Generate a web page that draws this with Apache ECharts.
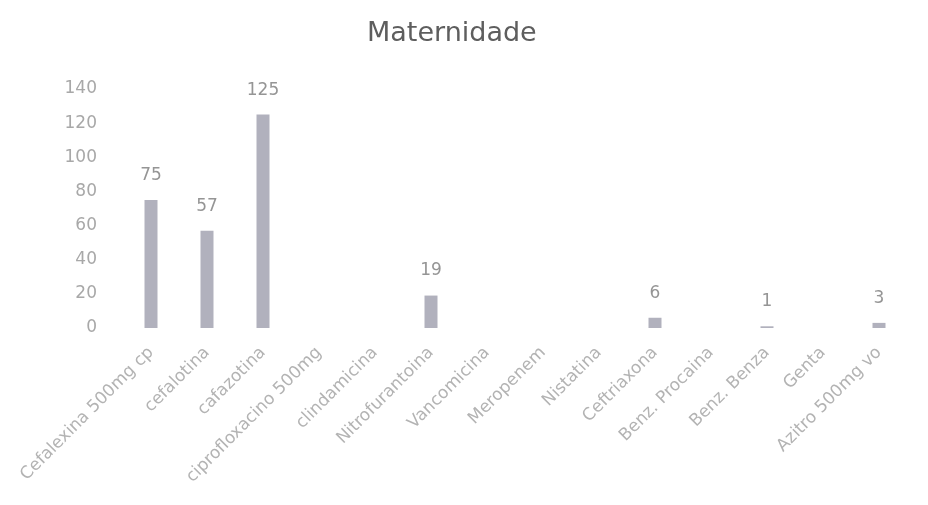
<!DOCTYPE html>
<html>
<head>
<meta charset="utf-8">
<script src="https://cdn.jsdelivr.net/npm/echarts@6/dist/echarts.min.js"></script>
<style>
  html, body { margin: 0; padding: 0; background: #fff; }
  #chart { width: 928px; height: 505px; }
</style>
</head>
<body>
<div id="chart"></div>
<script>
const categories = [
  'Cefalexina 500mg cp', 'cefalotina', 'cafazotina', 'ciprofloxacino 500mg',
  'clindamicina', 'Nitrofurantoina', 'Vancomicina', 'Meropenem', 'Nistatina',
  'Ceftriaxona', 'Benz. Procaina', 'Benz. Benza', 'Genta', 'Azitro 500mg vo'
]
// blank cells in the original sheet are null
const values = [75, 57, 125, null, null, 19, null, null, null, 6, null, 1, null, 3]
const yTicks = { min: 0, max: 140, step: 20 }

const chart = echarts.init(document.getElementById('chart'))

const option = {
  backgroundColor: '#ffffff',
  animation: false,
  textStyle: { fontFamily: '"DejaVu Sans", sans-serif' },
  title: {
    text: 'Maternidade',
    left: 362,
    top: 15,
    textStyle: {
      color: '#5e5e5e',
      fontSize: 27,
      fontWeight: 'normal',
      fontFamily: '"DejaVu Sans", sans-serif'
    }
  },
  grid: {
    left: 123,
    right: 21,
    top: 89,
    bottom: 177,
    containLabel: false
  },
  xAxis: {
    type: 'category',
    data: categories,
    axisLine: { show: false },
    axisTick: { show: false },
    axisLabel: {
      interval: 0,
      rotate: 45,
      margin: 22,
      color: '#b3b3b3',
      fontSize: 17
    }
  },
  yAxis: {
    type: 'value',
    min: yTicks.min,
    max: yTicks.max,
    interval: yTicks.step,
    axisLine: { show: false },
    axisTick: { show: false },
    splitLine: { show: false },
    axisLabel: {
      margin: 26,
      color: '#a8a8a8',
      fontSize: 17
    }
  },
  series: [
    {
      type: 'bar',
      data: values,
      barWidth: 13,
      itemStyle: { color: '#b1b1bd' },
      label: {
        show: true,
        position: 'top',
        distance: 16,
        color: '#959595',
        fontSize: 17
      }
    }
  ]
}

chart.setOption(option)
</script>
</body>
</html>
